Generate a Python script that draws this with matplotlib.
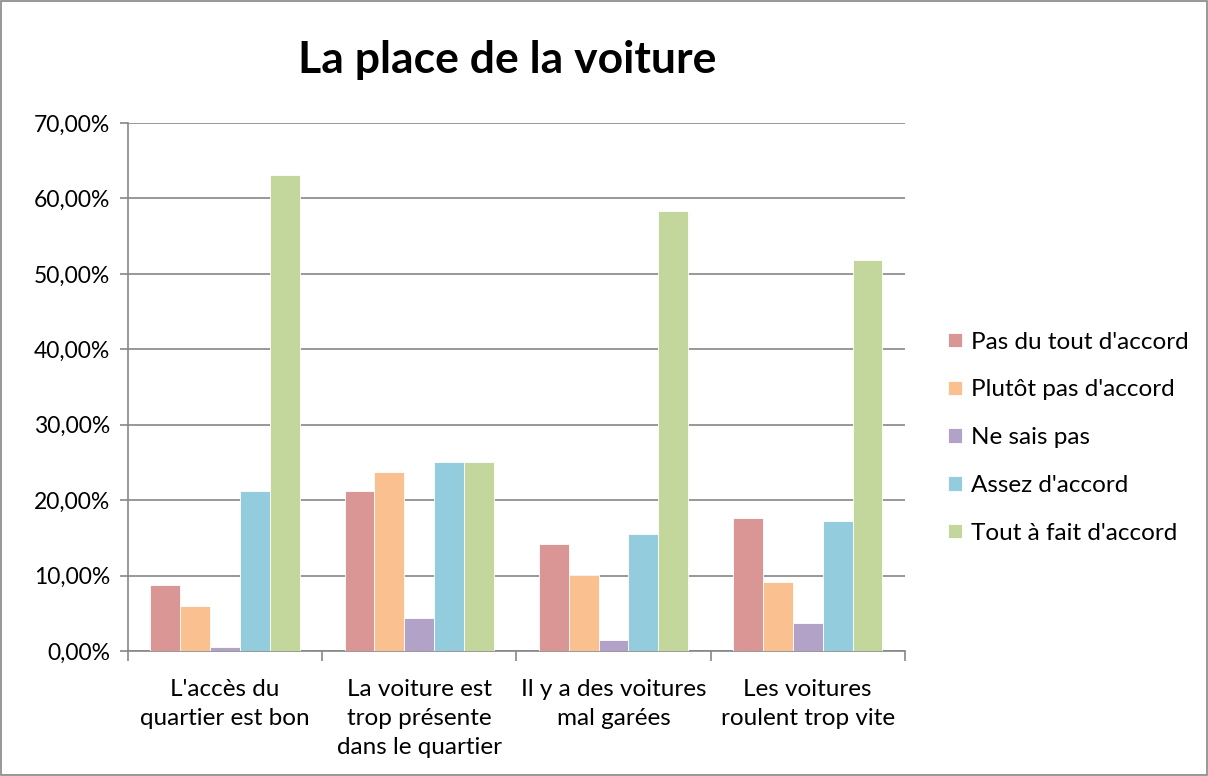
import numpy as np
import matplotlib.pyplot as plt
from matplotlib.patches import Rectangle
from matplotlib.ticker import FuncFormatter

plt.rcParams['font.family'] = ['Lato', 'DejaVu Sans']

# Données (en %)
categories = ["L'accès du\nquartier est bon",
              "La voiture est\ntrop présente\ndans le quartier",
              "Il y a des voitures\nmal garées",
              "Les voitures\nroulent trop vite"]
series = ["Pas du tout d'accord", "Plutôt pas d'accord", "Ne sais pas",
          "Assez d'accord", "Tout à fait d'accord"]
pas_du_tout = [8.8, 21.2, 14.2, 17.7]
plutot_pas = [6.0, 23.8, 10.1, 9.1]
ne_sais_pas = [0.5, 4.4, 1.5, 3.7]
assez = [21.2, 25.1, 15.5, 17.2]
tout_a_fait = [63.1, 25.1, 58.3, 51.9]
couleurs = ['#D99694', '#FAC090', '#B3A2C7', '#93CDDD', '#C3D69B']

valeurs = [pas_du_tout, plutot_pas, ne_sais_pas, assez, tout_a_fait]

fig = plt.figure(figsize=(12.08, 7.76), dpi=100)
ax = fig.add_axes([0.106, 0.161, 0.643, 0.6805])

x = np.arange(len(categories))
largeur = 0.154
for i, (nom, vals, c) in enumerate(zip(series, valeurs, couleurs)):
    pos = x + (i - 2) * largeur
    ax.bar(pos, vals, width=largeur, color=c, label=nom,
           edgecolor='white', linewidth=0.6, zorder=3)

ax.set_xlim(-0.5, len(categories) - 0.5)
ax.set_ylim(0, 70)
ax.set_yticks(np.arange(0, 71, 10))
ax.yaxis.set_major_formatter(FuncFormatter(lambda v, p: f"{v:.2f}%".replace('.', ',')))
ax.grid(axis='y', color='#868686', linewidth=1.2, zorder=0)

ax.set_xticks(x)
ax.set_xticklabels(categories, fontsize=17.5, linespacing=1.48)
ax.set_xticks(np.arange(-0.5, len(categories)), minor=True)
ax.tick_params(axis='x', which='major', length=0, pad=20)
ax.tick_params(axis='x', which='minor', length=7, color='#868686', width=1.2)
ax.tick_params(axis='y', length=6, color='#868686', width=1.2, labelsize=16.5, pad=7)

for s in ['top', 'right']:
    ax.spines[s].set_visible(False)
for s in ['left', 'bottom']:
    ax.spines[s].set_color('#868686')
    ax.spines[s].set_linewidth(1.2)

fig.text(0.42, 0.923, 'La place de la voiture', ha='center', va='center',
         fontsize=32, fontweight='bold')

leg = fig.legend(loc='center left', bbox_to_anchor=(0.785, 0.436), frameon=False,
                 fontsize=17.5, handlelength=0.55, handleheight=0.55,
                 handletextpad=0.4, labelspacing=1.1, borderpad=0,
                 borderaxespad=0)

fig.patches.append(Rectangle((0.0005, 0.0007), 0.999, 0.9986, transform=fig.transFigure,
                             fill=False, edgecolor='#868686', linewidth=1.2))

fig.savefig('out.png', dpi=100)
